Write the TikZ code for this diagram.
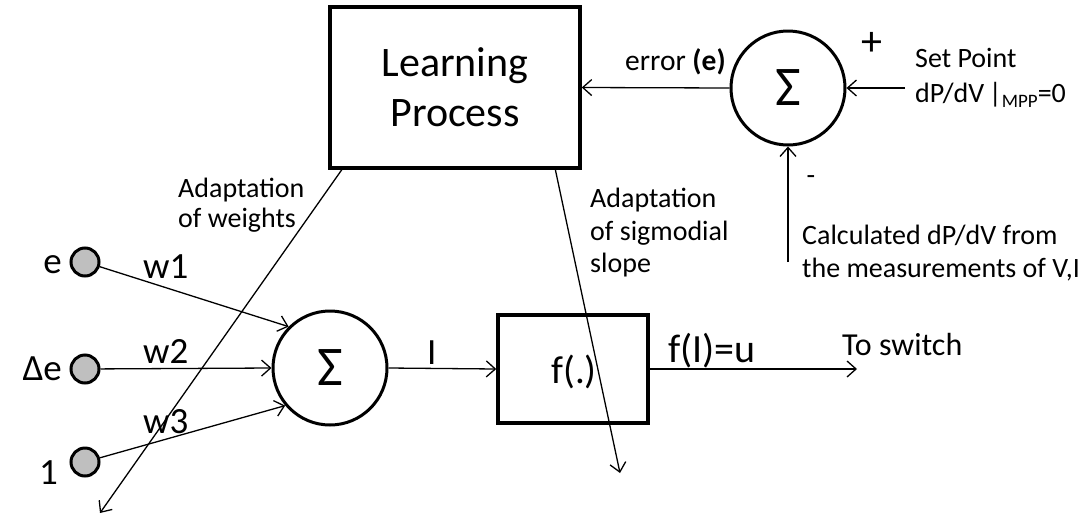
\documentclass[tikz,border=0pt]{standalone}
\usepackage{fontspec}
\setmainfont{Carlito}
\usetikzlibrary{arrows.meta}
\begin{document}
\begin{tikzpicture}[x=1pt,y=-1pt,
  conn/.style={line width=1.3pt,-{Straight Barb[length=9pt,width=16pt,line width=1.3pt]}},
  blockbox/.style={draw,line width=3.5pt,inner sep=0pt},
  sumnode/.style={draw,circle,line width=3pt,minimum size=114pt,inner sep=0pt,font=\fontsize{56}{60}\selectfont},
  innode/.style={draw,circle,line width=3pt,fill=black!25,minimum size=28pt,inner sep=0pt},
  lbl/.style={inner sep=0pt,anchor=base west,font=\fontsize{28}{33}\selectfont},
  biglbl/.style={inner sep=0pt,anchor=base west,font=\fontsize{37}{40}\selectfont}
]
\useasboundingbox (0,0) rectangle (1084,517);

% blocks
\node[blockbox,minimum width=250pt,minimum height=161pt,align=center,
  font=\fontsize{42}{50}\selectfont] (lp) at (455,87.5) {Learning\\Process};
\node[sumnode] (err) at (788,88) {Σ};
\node[sumnode] (sum) at (330,368) {Σ};
\node[blockbox,minimum width=150pt,minimum height=108pt] (fb) at (573,369) {};
\node[inner sep=0pt,anchor=base,font=\fontsize{39}{42}\selectfont] (flbl) at (574,383) {f(.)};

% inputs
\node[innode] (in1) at (85,262) {};
\node[innode] (in2) at (85,369) {};
\node[innode] (in3) at (85,462) {};
\node[biglbl,anchor=base east] (le) at (62,273) {e};
\node[biglbl,anchor=base east] (lde) at (62,380) {Δe};
\node[biglbl,anchor=base east] (lone) at (58,484) {1};

% free ends
\coordinate (out) at (857,369);
\coordinate (sp) at (905,88);
\coordinate (meas) at (788,262);
\coordinate (aw0) at (343,168);
\coordinate (aw1) at (100,513);
\coordinate (as0) at (555,168);
\coordinate (as1) at (620,473);

% connectors
\draw[conn] (in1) -- (sum.135);
\draw[conn] (in2) -- (sum.west);
\draw[conn] (in3) -- (sum.220);
\draw[conn] (sum.east) -- (fb.west);
\draw[conn] (fb.east) -- (out);
\draw[conn] (err.west) -- (lp.east);
\draw[conn] (sp) -- (err.east);
\draw[conn] (meas) -- (err.south);
\draw[conn] (aw0) -- (aw1);
\draw[conn] (as0) -- (as1);

% labels
\node[biglbl] (w1) at (143,278) {w1};
\node[biglbl] (w2) at (143,363) {w2};
\node[biglbl] (w3) at (143,433) {w3};
\node[biglbl] (li) at (427,364) {I};
\node[biglbl,font=\fontsize{40}{44}\selectfont] (lfu) at (668,362) {f(I)=u};
\node[lbl,font=\fontsize{32}{35}\selectfont] (lsw) at (842,355) {To switch};
\node[lbl,font=\fontsize{29.5}{33}\selectfont] (lerr) at (625,70) {error \textbf{(e)}};
\node[lbl,anchor=center,font=\fontsize{42}{44}\selectfont] (lplus) at (872,44) {+};
\node[lbl,anchor=center] (lminus) at (811,180) {-};
\node[lbl] (lset) at (915,67) {Set Point};
\node[lbl] (lset2) at (915,102) {dP/dV\,|\raisebox{-5pt}{\fontsize{19}{20}\selectfont MPP}=0};
\node[lbl] (lcal) at (802,244) {Calculated dP/dV from};
\node[lbl] (lcal2) at (802,277) {the measurements of V,I};
\node[lbl] (law) at (178,197) {Adaptation};
\node[lbl] (law2) at (178,227) {of weights};
\node[lbl] (las) at (590,207) {Adaptation};
\node[lbl] (las2) at (590,240) {of sigmodial};
\node[lbl] (las3) at (590,272) {slope};
\end{tikzpicture}
\end{document}
